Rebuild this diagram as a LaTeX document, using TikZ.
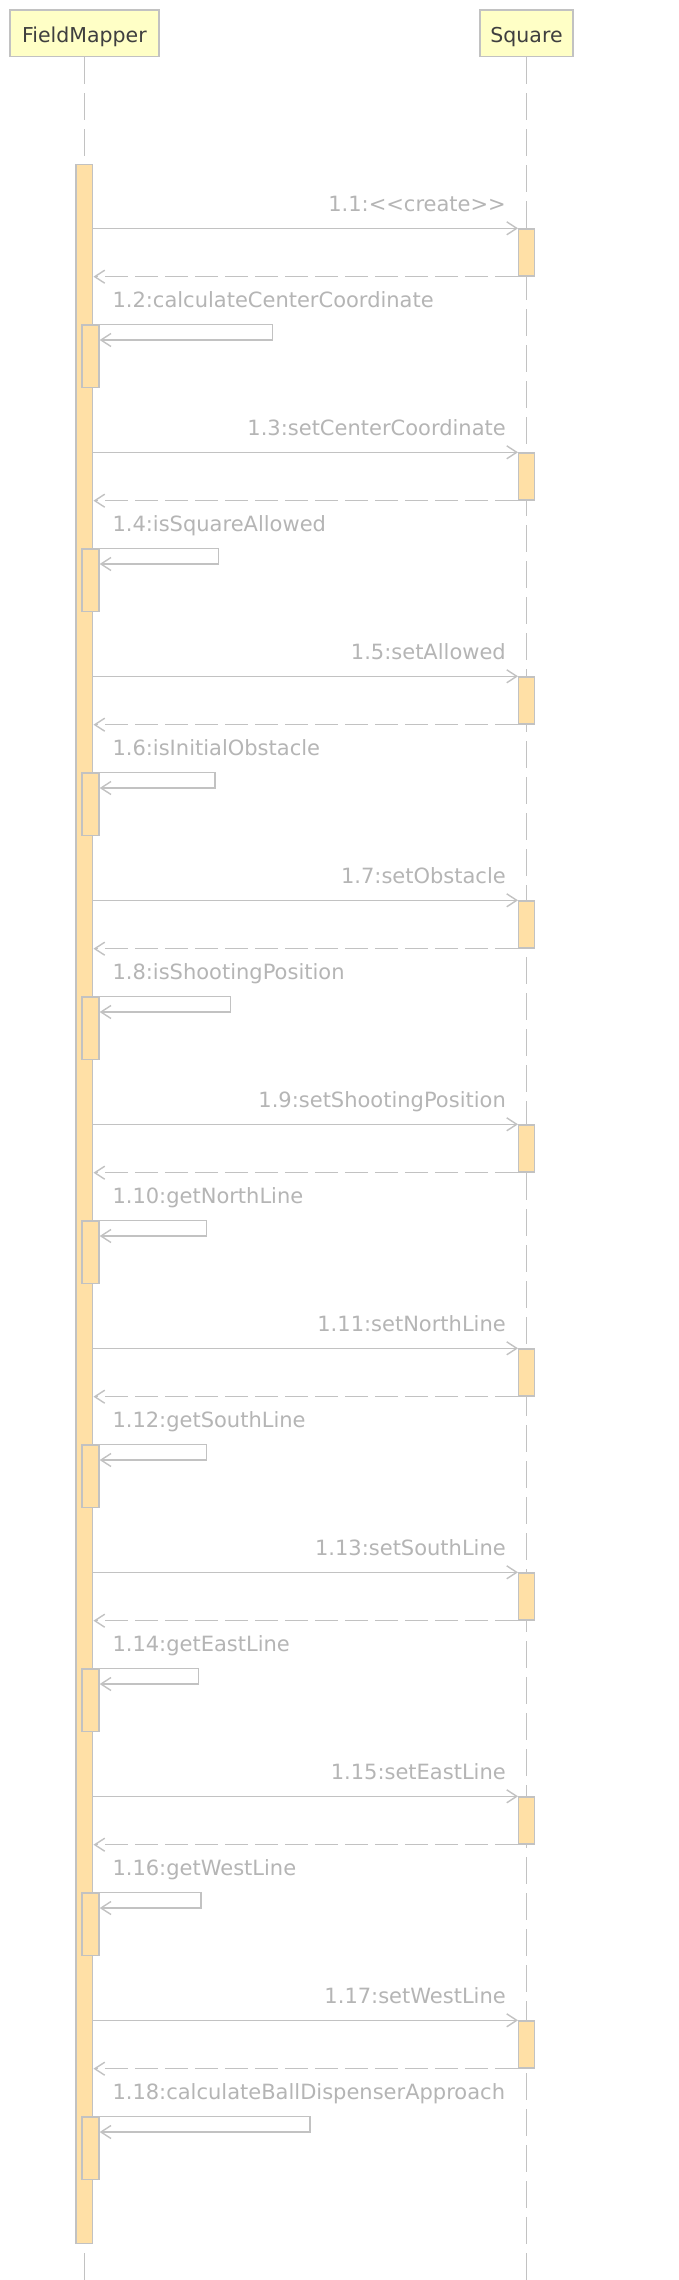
\documentclass[tikz,border=0pt]{standalone}
\usepackage{fontspec}
\setmainfont{DejaVu Sans}[Ligatures=TeXOff]
\usetikzlibrary{%
  arrows.meta,
}
\definecolor{linegray}{HTML}{C2C2C2}
\definecolor{textgray}{HTML}{B5B5B5}
\definecolor{barfill}{HTML}{FFE0A6}
\definecolor{headfill}{HTML}{FFFFC6}
\definecolor{headtext}{HTML}{3F3F3F}
\tikzset{
  head/.style = {
    rectangle, line width = 1.4pt,
    draw = linegray, fill = headfill,
    text = headtext, font = \fontsize{20.5}{24}\selectfont,
    text height = 18pt, text depth = 0pt,
    minimum height = 46.7pt, inner sep = 0pt,
  },
  lifeline/.style = {
    draw = linegray, line width = 1.4pt,
    dash pattern = on 27pt off 9pt,
  },
  actbar/.style = {
    rectangle, line width = 1.4pt,
    draw = linegray, fill = barfill,
    inner sep = 0pt, anchor = north,
  },
  msgline/.style = {
    draw = linegray, line width = 1.4pt, line join = miter,
    -{Straight Barb[length=10pt, width=13pt]},
  },
  replyline/.style = {
    msgline, dash pattern = on 23pt off 7pt,
  },
  msglabel/.style = {
    text = textgray, font = \fontsize{21}{25}\selectfont,
    inner sep = 0pt,
  },
}
\begin{document}
\begin{tikzpicture}[x = 1pt, y = -1pt]
        \fill[white] (0,0) rectangle (678,2280);
        \useasboundingbox (0,0) rectangle (678,2280);

        % participants
        \node[head, minimum width = 149pt] (fm) at (84.4,33.3) {FieldMapper};
        \node[head, minimum width = 93pt] (sq) at (526.5,33.3) {Square};

        \coordinate (fmend) at (84.4,2280);
        \coordinate (sqend) at (526.5,2280);
        \draw[lifeline] (fm.south) -- (fmend);
        \draw[lifeline] (sq.south) -- (sqend);

        \node[actbar, minimum width = 16.7pt, minimum height = 2079pt] (fmbar) at (84.4,164) {};

        % one call to Square, then one call to itself
        \foreach \call/\self/\loopx [count=\i from 0] in {
          {<<create>>}/calculateCenterCoordinate/272.7,
          setCenterCoordinate/isSquareAllowed/218.7,
          setAllowed/isInitialObstacle/215,
          setObstacle/isShootingPosition/230.7,
          setShootingPosition/getNorthLine/206.7,
          setNorthLine/getSouthLine/206.7,
          setSouthLine/getEastLine/198.7,
          setEastLine/getWestLine/201,
          setWestLine/calculateBallDispenserApproach/310%
        }{
          \pgfmathsetmacro\cy{228.3+224*\i}
          \pgfmathtruncatemacro\ncall{2*\i+1}
          \pgfmathtruncatemacro\nself{2*\i+2}

          \node[actbar, minimum width = 16pt, minimum height = 47pt] (sqbar\i) at (526.7,\cy) {};
          \node[actbar, minimum width = 17pt, minimum height = 62.4pt] (selfbar\i) at (90.5,\cy+96) {};
          \coordinate (loop\i) at (\loopx,\cy+111.7);

          \draw[msgline] (fmbar.east |- sqbar\i.north west) -- (sqbar\i.north west);
          \draw[replyline] (sqbar\i.south west) -- (fmbar.east |- sqbar\i.south west);
          \draw[msgline] (fmbar.east |- selfbar\i.north) -| (loop\i) -- (selfbar\i.east |- loop\i);

          \node[msglabel, anchor = base east] (calllabel\i) at (506,\cy-16.6) {1.\ncall:\call};
          \node[msglabel, anchor = base west] (selflabel\i) at (112.3,\cy+79.4) {1.\nself:\self};
        }
      \end{tikzpicture}
\end{document}
